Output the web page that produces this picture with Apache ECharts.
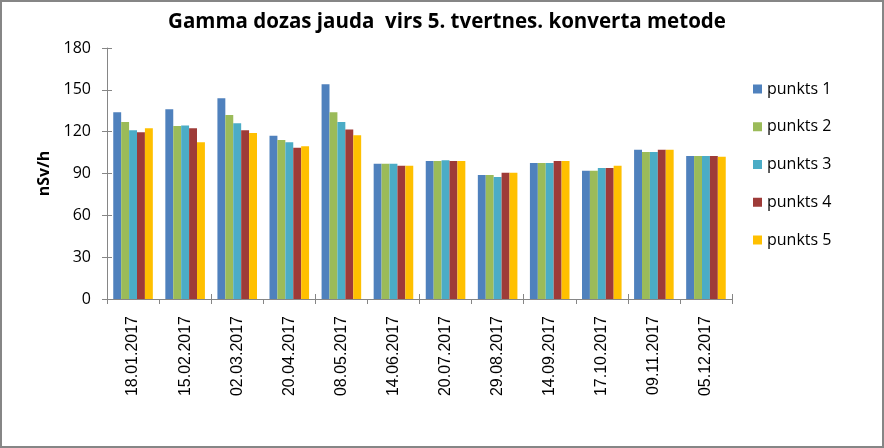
<!DOCTYPE html>
<html>
<head>
<meta charset="utf-8">
<script src="https://cdn.jsdelivr.net/npm/echarts@6/dist/echarts.min.js"></script>
<style>
  html, body { margin: 0; padding: 0; background: #ffffff; }
  #chart {
    width: 884px;
    height: 448px;
    box-sizing: border-box;
    border: 2px solid #868686;
    background: #ffffff;
  }
</style>
</head>
<body>
<div id="chart"></div>
<script>
// datumi
var categories = ["18.01.2017", "15.02.2017", "02.03.2017", "20.04.2017", "08.05.2017", "14.06.2017",
  "20.07.2017", "29.08.2017", "14.09.2017", "17.10.2017", "09.11.2017", "05.12.2017"];

var punkts1 = [134, 136, 144, 117, 154, 97, 99, 89, 97.5, 92, 107, 102.5];
var punkts2 = [127, 124, 132, 114, 134, 97, 99, 89, 97.5, 92, 105.5, 102.5];
var punkts3 = [121, 124.5, 126, 112.5, 127, 97, 99.5, 87.5, 97.5, 94, 105.5, 102.5];
var punkts4 = [119.5, 122.5, 121, 108.5, 121.5, 95.5, 99, 90.5, 99, 94, 107, 102.5];
var punkts5 = [122.5, 112.5, 119, 109.5, 117.5, 95.5, 99, 90.5, 99, 95.5, 107, 102];

var seriesNames = ["punkts 1", "punkts 2", "punkts 3", "punkts 4", "punkts 5"];
var yTicks = [0, 30, 60, 90, 120, 150, 180];

var colors = ["#4F81BD", "#9BBB59", "#4BACC6", "#9E3B38", "#FFC000"];
var axisColor = "#868686";

var allData = [punkts1, punkts2, punkts3, punkts4, punkts5];

var myChart = echarts.init(document.getElementById("chart"));

var option = {
  animation: false,
  color: colors,
  title: {
    text: "Gamma dozas jauda  virs 5. tvertnes. konverta metode",
    left: 440,
    textAlign: "center",
    top: 5,
    textStyle: {
      fontFamily: "Open Sans",
      fontSize: 20.5,
      fontWeight: "bold",
      color: "#000000"
    }
  },
  legend: {
    orient: "vertical",
    left: 746,
    top: 74,
    itemWidth: 9,
    itemHeight: 9,
    itemGap: 21.75,
    icon: "rect",
    data: seriesNames,
    textStyle: {
      fontFamily: "Open Sans",
      fontSize: 16,
      lineHeight: 16,
      color: "#000000",
      padding: [0, 0, 0, 0]
    }
  },
  grid: {
    left: 105,
    right: 150,
    top: 46,
    bottom: 147
  },
  xAxis: [
    {
      type: "category",
      data: categories,
      axisLine: { lineStyle: { color: axisColor } },
      axisTick: { show: true, length: 5, lineStyle: { color: axisColor } },
      axisLabel: {
        rotate: 90,
        margin: 17,
        fontFamily: "Liberation Sans",
        fontSize: 16,
        color: "#000000"
      }
    },
    {
      // ticks crossing the axis line (inner half)
      type: "category",
      data: categories,
      position: "bottom",
      axisLine: { show: false },
      axisTick: { show: true, inside: true, length: 5, lineStyle: { color: axisColor } },
      axisLabel: { show: false }
    }
  ],
  yAxis: [
    {
      type: "value",
      min: yTicks[0],
      max: yTicks[yTicks.length - 1],
      interval: 30,
      name: "nSv/h",
      nameLocation: "middle",
      nameGap: 50,
      nameRotate: 90,
      nameTextStyle: {
        fontFamily: "Open Sans",
        fontSize: 16,
        fontWeight: "bold",
        color: "#000000"
      },
      axisLine: { show: true, lineStyle: { color: axisColor } },
      axisTick: { show: true, length: 5, lineStyle: { color: axisColor } },
      axisLabel: {
        margin: 16,
        fontFamily: "Open Sans",
        fontSize: 16,
        color: "#000000"
      },
      splitLine: { show: false }
    },
    {
      type: "value",
      min: yTicks[0],
      max: yTicks[yTicks.length - 1],
      interval: 30,
      position: "left",
      axisLine: { show: false },
      axisTick: { show: true, inside: true, length: 5, lineStyle: { color: axisColor } },
      axisLabel: { show: false },
      splitLine: { show: false }
    }
  ],
  series: seriesNames.map(function (name, i) {
    return {
      name: name,
      type: "bar",
      barGap: 0,
      barCategoryGap: "24%",
      data: allData[i]
    };
  })
};

myChart.setOption(option);
</script>
</body>
</html>
